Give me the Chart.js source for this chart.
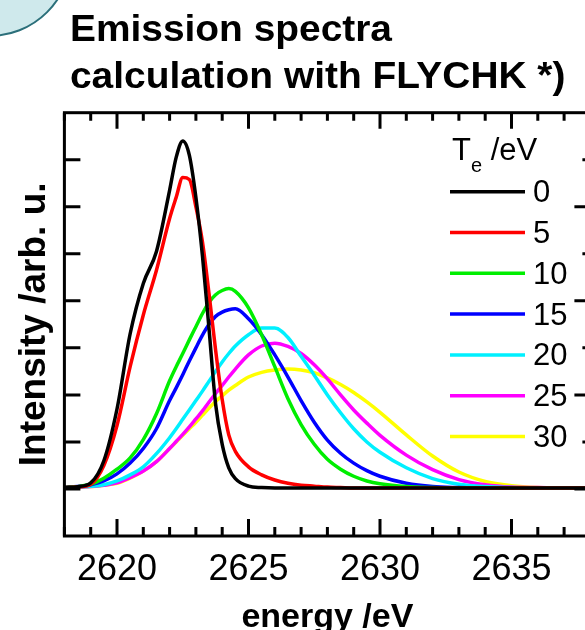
<!DOCTYPE html>
<html><head><meta charset="utf-8">
<script src="https://cdn.jsdelivr.net/npm/chart.js@4.4.1/dist/chart.umd.min.js"></script>
<style>
html,body{margin:0;padding:0;background:#fff;overflow:hidden;width:585px;height:630px;}
#wrap{position:relative;width:585px;height:630px;overflow:hidden;}
#deco{position:absolute;left:-93px;top:-128px;width:165px;height:165px;border-radius:50%;background:#cfe9ec;border:2px solid #2b6f7a;box-sizing:border-box;}
#title{position:absolute;left:70px;top:4.5px;font:bold 36px "Liberation Sans",Arial,sans-serif;line-height:47.5px;color:#000;white-space:nowrap;transform:scaleX(1.08);transform-origin:0 0;}
canvas{position:absolute;left:0;top:0;}
</style></head>
<body>
<div id="wrap">
<div id="deco"></div>
<canvas id="c" width="640" height="660" style="width:640px;height:660px"></canvas>
<div id="title">Emission spectra<br>calculation with FLYCHK *)</div>
</div>
<script>
// ---- data ----
const energy = [2618, 2618.5, 2619, 2619.5, 2620, 2620.5, 2621, 2621.5, 2622, 2622.25, 2622.5, 2622.75, 2623, 2623.25, 2623.5, 2623.75, 2624, 2624.25, 2624.5,
  2625, 2625.5, 2626, 2626.5, 2627, 2627.5, 2628, 2628.5, 2629, 2629.5, 2630,
  2631, 2632, 2633, 2634, 2635, 2636, 2637, 2638];
const te0  = [0.03,0.05,0.13,0.6,1.7,3.3,4.37,5.05,6.35,7.05,7.4,7.1,6.2,4.95,3.4,1.8,0.95,0.45,0.22,
  0.06,0.03,0.02,0.02,0.02,0.02,0.02,0.02,0.02,0.02,0.02,
  0.02,0.02,0.02,0.02,0.02,0.02,0.02,0.02];
const te5  = [0.03,0.04,0.1,0.5,1.35,2.6,3.7,4.65,5.75,6.2,6.62,6.58,6.0,5.25,4.15,2.95,1.9,1.15,0.8,
  0.47,0.3,0.19,0.12,0.08,0.06,0.04,0.03,0.02,0.02,0.02,
  0.02,0.02,0.02,0.02,0.02,0.02,0.02,0.02];
const te10 = [0.03,0.05,0.1,0.23,0.42,0.66,1.05,1.6,2.3,2.6,2.88,3.17,3.45,3.73,3.97,4.13,4.22,4.26,4.2,
  3.85,3.28,2.6,1.92,1.37,0.95,0.63,0.42,0.27,0.17,0.11,
  0.05,0.03,0.02,0.02,0.02,0.02,0.02,0.02];
const te15 = [0.03,0.05,0.09,0.17,0.32,0.55,0.86,1.28,1.88,2.15,2.43,2.72,3.0,3.27,3.5,3.67,3.76,3.81,3.83,
  3.62,3.28,2.85,2.38,1.88,1.42,1.04,0.76,0.55,0.39,0.27,
  0.12,0.05,0.03,0.02,0.02,0.02,0.02,0.02];
const te20 = [0.03,0.04,0.06,0.09,0.17,0.3,0.47,0.75,1.09,1.28,1.48,1.68,1.88,2.08,2.29,2.5,2.7,2.88,3.04,
  3.28,3.42,3.42,3.22,2.82,2.42,2.0,1.62,1.28,1.0,0.78,
  0.45,0.22,0.1,0.05,0.03,0.02,0.02,0.02];
const te25 = [0.03,0.04,0.05,0.08,0.13,0.24,0.38,0.58,0.86,1.01,1.16,1.32,1.49,1.66,1.85,2.03,2.2,2.38,2.55,
  2.85,3.04,3.1,3.03,2.88,2.64,2.34,2.0,1.68,1.4,1.14,
  0.72,0.41,0.2,0.09,0.04,0.03,0.02,0.02];
const te30 = [0.03,0.04,0.05,0.08,0.12,0.23,0.38,0.58,0.86,1.0,1.14,1.28,1.42,1.57,1.72,1.86,1.98,2.1,2.2,
  2.38,2.48,2.53,2.55,2.53,2.47,2.36,2.22,2.05,1.85,1.63,
  1.15,0.7,0.36,0.16,0.07,0.03,0.02,0.02];
const seriesLabels = ['0','5','10','15','20','25','30'];
const seriesValues = [te0, te5, te10, te15, te20, te25, te30];
const xTickLabels = [2620, 2625, 2630, 2635];

// ---- styles ----
const seriesColors = ['#000000','#ff0000','#00ee00','#0000ff','#00f0ff','#ff00ff','#ffff00'];
const FONT = '"Liberation Sans", Arial, sans-serif';

const datasets = seriesValues.map((vals, i) => ({
  label: seriesLabels[i],
  data: energy.map((e, j) => ({x: e, y: vals[j]})),
  borderColor: seriesColors[i],
  backgroundColor: seriesColors[i],
  borderWidth: 3.5,
  pointRadius: 0,
  fill: false,
  cubicInterpolationMode: 'monotone'
}));

const frameTicks = {
  id: 'frameTicks',
  afterDraw(chart) {
    const {ctx, chartArea: a, scales: {x, y}} = chart;
    ctx.save();
    ctx.strokeStyle = '#000';
    ctx.lineWidth = 3;
    ctx.lineCap = 'butt';
    ctx.beginPath();
    for (let v = Math.ceil(x.min); v <= x.max; v++) {
      const px = x.getPixelForValue(v);
      const major = v % 5 === 0;
      ctx.moveTo(px, a.bottom); ctx.lineTo(px, a.bottom - (major ? 17 : 9));
      ctx.moveTo(px, a.top); ctx.lineTo(px, a.top + (major ? 16 : 8));
    }
    for (let v = Math.ceil(y.min) + 1; v < y.max; v++) {
      const py = y.getPixelForValue(v);
      ctx.moveTo(a.left, py); ctx.lineTo(a.left + 16, py);
      ctx.moveTo(a.right, py); ctx.lineTo(a.right - (v % 2 === 0 ? 16 : 8), py);
    }
    ctx.stroke();
    ctx.strokeRect(a.left, a.top, a.right - a.left, a.bottom - a.top);

    // legend
    ctx.fillStyle = '#000';
    ctx.textBaseline = 'alphabetic';
    ctx.textAlign = 'left';
    ctx.font = '31px ' + FONT;
    const tx = 452, ty = 160;
    ctx.fillText('T', tx, ty);
    const tw = ctx.measureText('T').width;
    ctx.font = '20px ' + FONT;
    ctx.fillText('e', tx + tw, ty + 12);
    const ew = ctx.measureText('e').width;
    ctx.font = '31px ' + FONT;
    ctx.fillText(' /eV', tx + tw + ew, ty);
    const lx0 = 450, lx1 = 525, ly0 = 191.7, dy = 40.8;
    chart.data.datasets.forEach((ds, i) => {
      const yy = ly0 + i * dy;
      ctx.strokeStyle = ds.borderColor;
      ctx.lineWidth = 3.5;
      ctx.beginPath(); ctx.moveTo(lx0, yy); ctx.lineTo(lx1, yy); ctx.stroke();
      ctx.fillStyle = '#000';
      ctx.textBaseline = 'middle';
      ctx.fillText(ds.label, 533, yy + 2);
    });
    ctx.restore();
  }
};

new Chart(document.getElementById('c'), {
  type: 'line',
  data: {datasets},
  options: {
    responsive: false,
    animation: false,
    devicePixelRatio: 1,
    layout: {padding: {left: 0, right: 49.6, top: 112.7, bottom: 0}},
    plugins: {legend: {display: false}, tooltip: {enabled: false}},
    scales: {
      x: {
        type: 'linear', min: 2618, max: 2638,
        grid: {display: false, drawTicks: false},
        border: {display: false},
        ticks: {
          stepSize: 1, autoSkip: false, maxRotation: 0, minRotation: 0, padding: 12,
          color: '#000', font: {family: FONT, size: 36},
          callback: v => xTickLabels.includes(v) ? String(v) : ''
        },
        title: {display: true, text: 'energy /eV', color: '#000',
          font: {family: FONT, size: 34, weight: 'bold'}, padding: {top: 0, bottom: 22}},
        afterFit: s => { s.height = 124; }
      },
      y: {
        type: 'linear', min: -1, max: 8,
        grid: {display: false, drawTicks: false},
        border: {display: false},
        ticks: {display: false},
        title: {display: true, text: 'Intensity /arb. u.', color: '#000',
          font: {family: FONT, size: 37, weight: 'bold'}, padding: {top: 12.5, bottom: 0}},
        afterFit: s => { s.width = 64.4; }
      }
    }
  },
  plugins: [frameTicks]
});
</script>
</body></html>
